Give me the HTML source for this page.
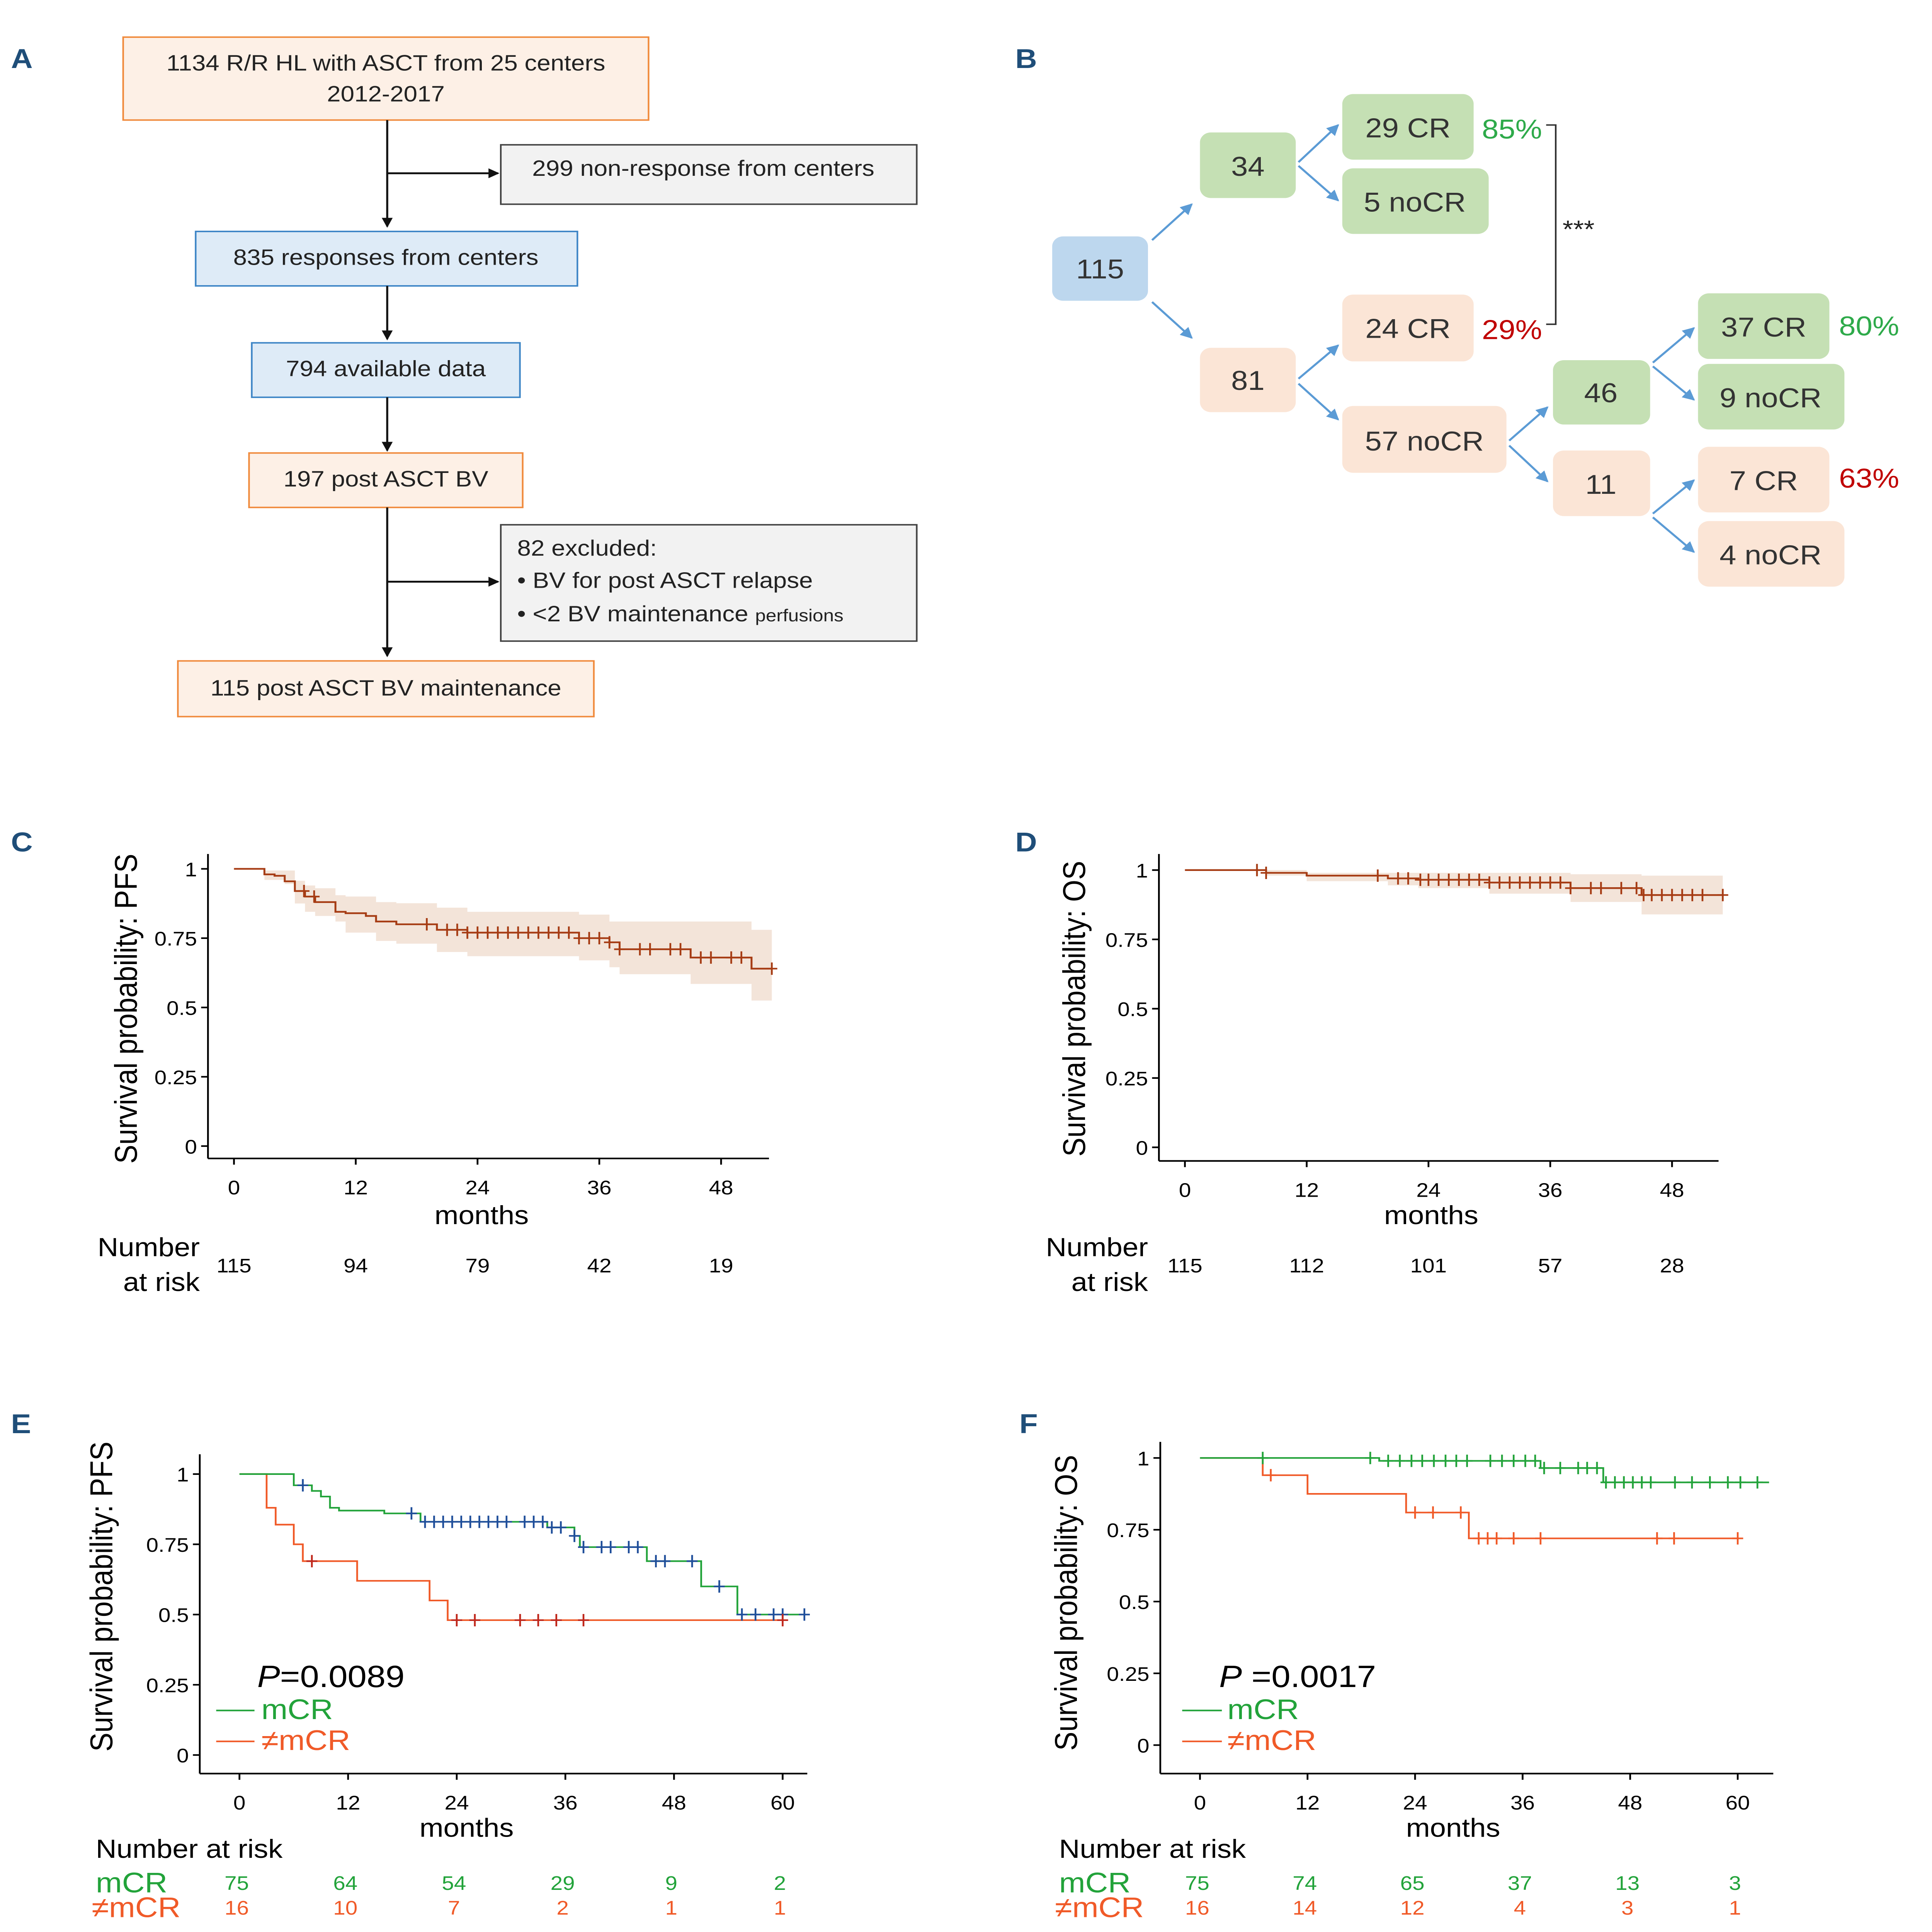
<!DOCTYPE html>
<html><head><meta charset="utf-8">
<style>
html,body{margin:0;padding:0;background:#fff;width:100vw;height:100vh;overflow:hidden;}
#root{display:block;position:fixed;left:0;top:0;width:100vw;height:100vh;}
text{font-family:"Liberation Sans",sans-serif;}
.fa{font-size:18px;fill:#222;}
.fb{font-size:22px;fill:#333;}
.tk{font-size:16px;fill:#000;}
.lab{font-size:21px;fill:#000;}
</style></head>
<body>
<svg id="root" viewBox="0 0 1412 1561" preserveAspectRatio="none" xmlns="http://www.w3.org/2000/svg">
<defs>
<marker id="ah" markerWidth="8" markerHeight="8" refX="7" refY="4" orient="auto" markerUnits="userSpaceOnUse"><path d="M0,0 L8,4 L0,8 z" fill="#111"/></marker>
<marker id="ab" markerWidth="9" markerHeight="9" refX="8" refY="4.5" orient="auto" markerUnits="userSpaceOnUse"><path d="M0,0 L9,4.5 L0,9 z" fill="#5b9bd5"/></marker>
</defs>
<g font-weight="bold" font-size="22" fill="#1f4e79">
<text x="8" y="55">A</text>
<text x="742" y="55">B</text>
<text x="8" y="688">C</text>
<text x="742" y="688">D</text>
<text x="8" y="1158">E</text>
<text x="745" y="1158">F</text>
</g>

<g>
<rect x="90" y="30" width="384" height="67" fill="#fdf0e6" stroke="#f08a3c" stroke-width="1.2"/>
<text class="fa" x="282" y="57" text-anchor="middle">1134 R/R HL with ASCT from 25 centers</text>
<text class="fa" x="282" y="82" text-anchor="middle">2012-2017</text>
<line x1="283" y1="97" x2="283" y2="183" stroke="#111" stroke-width="1.5" marker-end="url(#ah)"/>
<line x1="283" y1="140" x2="364" y2="140" stroke="#111" stroke-width="1.5" marker-end="url(#ah)"/>
<rect x="366" y="117" width="304" height="48" fill="#f2f2f2" stroke="#444" stroke-width="1.2"/>
<text class="fa" x="514" y="142" text-anchor="middle">299 non-response from centers</text>
<rect x="143" y="187" width="279" height="44" fill="#deebf7" stroke="#3d85c6" stroke-width="1.2"/>
<text class="fa" x="282" y="214" text-anchor="middle">835 responses from centers</text>
<line x1="283" y1="231" x2="283" y2="274" stroke="#111" stroke-width="1.5" marker-end="url(#ah)"/>
<rect x="184" y="277" width="196" height="44" fill="#deebf7" stroke="#3d85c6" stroke-width="1.2"/>
<text class="fa" x="282" y="304" text-anchor="middle">794 available data</text>
<line x1="283" y1="321" x2="283" y2="364" stroke="#111" stroke-width="1.5" marker-end="url(#ah)"/>
<rect x="182" y="366" width="200" height="44" fill="#fdf0e6" stroke="#f08a3c" stroke-width="1.2"/>
<text class="fa" x="282" y="393" text-anchor="middle">197 post ASCT BV</text>
<line x1="283" y1="410" x2="283" y2="530" stroke="#111" stroke-width="1.5" marker-end="url(#ah)"/>
<line x1="283" y1="470" x2="364" y2="470" stroke="#111" stroke-width="1.5" marker-end="url(#ah)"/>
<rect x="366" y="424" width="304" height="94" fill="#f2f2f2" stroke="#444" stroke-width="1.2"/>
<text class="fa" x="378" y="449">82 excluded:</text>
<text class="fa" x="378" y="475">• BV for post ASCT relapse</text>
<text class="fa" x="378" y="502">• &lt;2 BV maintenance <tspan font-size="14">perfusions</tspan></text>
<rect x="130" y="534" width="304" height="45" fill="#fdf0e6" stroke="#f08a3c" stroke-width="1.2"/>
<text class="fa" x="282" y="562" text-anchor="middle">115 post ASCT BV maintenance</text>
</g>

<g>
<rect x="769" y="191" width="70" height="52" rx="8" fill="#bdd7ee"/>
<text class="fb" x="804" y="225" text-anchor="middle">115</text>
<rect x="877" y="107" width="70" height="53" rx="8" fill="#c5e0b4"/>
<text class="fb" x="912" y="142" text-anchor="middle">34</text>
<rect x="877" y="281" width="70" height="52" rx="8" fill="#fbe5d6"/>
<text class="fb" x="912" y="315" text-anchor="middle">81</text>
<rect x="981" y="76" width="96" height="53" rx="8" fill="#c5e0b4"/>
<text class="fb" x="1029" y="111" text-anchor="middle">29 CR</text>
<rect x="981" y="136" width="107" height="53" rx="8" fill="#c5e0b4"/>
<text class="fb" x="1034" y="171" text-anchor="middle">5 noCR</text>
<rect x="981" y="238" width="96" height="54" rx="8" fill="#fbe5d6"/>
<text class="fb" x="1029" y="273" text-anchor="middle">24 CR</text>
<rect x="981" y="328" width="120" height="54" rx="8" fill="#fbe5d6"/>
<text class="fb" x="1041" y="364" text-anchor="middle">57 noCR</text>
<rect x="1135" y="291" width="71" height="52" rx="8" fill="#c5e0b4"/>
<text class="fb" x="1170" y="325" text-anchor="middle">46</text>
<rect x="1135" y="364" width="71" height="53" rx="8" fill="#fbe5d6"/>
<text class="fb" x="1170" y="399" text-anchor="middle">11</text>
<rect x="1241" y="237" width="96" height="53" rx="8" fill="#c5e0b4"/>
<text class="fb" x="1289" y="272" text-anchor="middle">37 CR</text>
<rect x="1241" y="294" width="107" height="53" rx="8" fill="#c5e0b4"/>
<text class="fb" x="1294" y="329" text-anchor="middle">9 noCR</text>
<rect x="1241" y="361" width="96" height="53" rx="8" fill="#fbe5d6"/>
<text class="fb" x="1289" y="396" text-anchor="middle">7 CR</text>
<rect x="1241" y="421" width="107" height="53" rx="8" fill="#fbe5d6"/>
<text class="fb" x="1294" y="456" text-anchor="middle">4 noCR</text>
<g font-size="22">
<text x="1083" y="112" fill="#2eaa4a">85%</text>
<text x="1083" y="274" fill="#c00000">29%</text>
<text x="1344" y="271" fill="#2eaa4a">80%</text>
<text x="1344" y="394" fill="#c00000">63%</text>
</g>
<path d="M1130,101 L1137,101 L1137,262 L1130,262" fill="none" stroke="#333" stroke-width="1.2"/>
<text x="1142" y="192" font-size="20" fill="#222">***</text>
<g stroke="#5b9bd5" stroke-width="1.6" marker-end="url(#ab)">
<line x1="842" y1="194" x2="871" y2="165"/>
<line x1="842" y1="244" x2="871" y2="273"/>
<line x1="949" y1="131" x2="978" y2="101"/>
<line x1="949" y1="134" x2="978" y2="162"/>
<line x1="949" y1="306" x2="978" y2="279"/>
<line x1="949" y1="310" x2="978" y2="339"/>
<line x1="1103" y1="356" x2="1131" y2="329"/>
<line x1="1103" y1="360" x2="1131" y2="389"/>
<line x1="1208" y1="293" x2="1238" y2="265"/>
<line x1="1208" y1="296" x2="1238" y2="323"/>
<line x1="1208" y1="415" x2="1238" y2="388"/>
<line x1="1208" y1="418" x2="1238" y2="446"/>
</g>
</g>
<g id="charts"></g>
</svg>
<script>
const cTimes = [0,3,4,5,6,7,8,10,11,13,14,16,20,23,34,37,38,45,51];
const cSurv  = [1,0.98,0.975,0.955,0.92,0.90,0.88,0.845,0.84,0.83,0.81,0.80,0.78,0.77,0.75,0.735,0.71,0.68,0.64];
const cUpper = [1,0.994,0.994,0.994,0.957,0.94,0.93,0.905,0.90,0.90,0.88,0.876,0.86,0.845,0.835,0.81,0.81,0.81,0.78];
const cLower = [1,0.96,0.96,0.945,0.875,0.845,0.83,0.81,0.77,0.77,0.74,0.73,0.70,0.685,0.67,0.645,0.62,0.585,0.525];
const cEnd = 53;
const cCensor = [6.9,7.9,19,21,22,23,24,25,26,27,28,29,30,31,32,33,34,35,36,37,38,40,41,43,44,46,47,49,50,53];
const cXTicks = [0,12,24,36,48];
const cYTicks = [0,0.25,0.5,0.75,1];
const cYTickLabels = ["0","0.25","0.5","0.75","1"];
const cRisk = ["115","94","79","42","19"];

const dTimes = [0,8,12,20,23,30,38,45];
const dSurv  = [1,0.99,0.98,0.97,0.965,0.955,0.935,0.91];
const dUpper = [1,1,0.99,0.99,0.99,0.99,0.985,0.98];
const dLower = [1,0.98,0.96,0.945,0.935,0.915,0.885,0.84];
const dEnd = 53;
const dCensor = [7.1,8,19,21,22,23.2,24,25,26,27,28,29,30,31,32,33,34,35,36,37,38,40,41,43,44.5,45.2,46,47,48,49,50,51,53];
const dXTicks = [0,12,24,36,48];
const dYTicks = [0,0.25,0.5,0.75,1];
const dYTickLabels = ["0","0.25","0.5","0.75","1"];
const dRisk = ["115","112","101","57","28"];

const eGreenTimes = [0,6,8,9,10,11,16,20,34,37,37.6,45,51,55];
const eGreenSurv  = [1,0.96,0.94,0.92,0.88,0.87,0.86,0.83,0.81,0.78,0.74,0.69,0.60,0.50];
const eGreenEnd = 62.4;
const eGreenCensor = [7,19,20.5,21.5,22.5,23.5,24.5,25.5,26.5,27.5,28.5,29.5,31.5,32.5,33.5,34.5,35.5,37,38,40,41,43,44,46,47,50,53,55.5,57,59,60,62.4];
const eRedTimes = [0,3,4,6,7,13,21,23];
const eRedSurv  = [1,0.88,0.82,0.75,0.69,0.62,0.55,0.48];
const eRedEnd = 60;
const eRedCensor = [8,24,26,31,33,35,38,60];
const eXTicks = [0,12,24,36,48,60];
const eYTicks = [0,0.25,0.5,0.75,1];
const eYTickLabels = ["0","0.25","0.5","0.75","1"];
const eRiskGreen = ["75","64","54","29","9","2"];
const eRiskRed = ["16","10","7","2","1","1"];

const fGreenTimes = [0,20,38,45];
const fGreenSurv  = [1,0.99,0.965,0.915];
const fGreenEnd = 63.5;
const fGreenCensor = [7,19,21,22.3,23.6,24.8,26.1,27.4,28.6,29.8,32.4,33.7,35,36.3,37.4,38.4,40.2,42.2,43.2,44.3,45.3,46.3,47.3,48.3,49.3,50.3,53,54.9,56.9,58.9,60.3,62.2];
const fRedTimes = [0,7,12,23,30];
const fRedSurv  = [1,0.94,0.875,0.81,0.72];
const fRedEnd = 60;
const fRedCensor = [7.9,24,26,29.1,31.1,32.1,33.1,35,38,51,52.9,60];
const fXTicks = [0,12,24,36,48,60];
const fYTicks = [0,0.25,0.5,0.75,1];
const fYTickLabels = ["0","0.25","0.5","0.75","1"];
const fRiskGreen = ["75","74","65","37","13","3"];
const fRiskRed = ["16","14","12","4","3","1"];

const NS = "http://www.w3.org/2000/svg";
const charts = document.getElementById('charts');
function mk(tag, attrs, parent){
  const e = document.createElementNS(NS, tag);
  for (const k in attrs) e.setAttribute(k, attrs[k]);
  (parent||charts).appendChild(e);
  return e;
}
function survAt(times, surv, t){
  let s = surv[0];
  for (let i=0;i<times.length;i++){ if (times[i] <= t) s = surv[i]; }
  return s;
}
function stepPath(times, vals, end, sx, sy){
  let d = "M" + sx(times[0]) + "," + sy(vals[0]);
  for (let i=1;i<times.length;i++){
    d += " L" + sx(times[i]) + "," + sy(vals[i-1]) + " L" + sx(times[i]) + "," + sy(vals[i]);
  }
  d += " L" + sx(end) + "," + sy(vals[vals.length-1]);
  return d;
}
function bandPath(times, up, lo, end, sx, sy){
  let d = "M" + sx(times[0]) + "," + sy(up[0]);
  for (let i=1;i<times.length;i++) d += " L" + sx(times[i]) + "," + sy(up[i-1]) + " L" + sx(times[i]) + "," + sy(up[i]);
  d += " L" + sx(end) + "," + sy(up[up.length-1]);
  d += " L" + sx(end) + "," + sy(lo[lo.length-1]);
  for (let i=times.length-1;i>=1;i--) d += " L" + sx(times[i]) + "," + sy(lo[i]) + " L" + sx(times[i]) + "," + sy(lo[i-1]);
  d += " L" + sx(times[0]) + "," + sy(lo[0]) + " Z";
  return d;
}
function axes(g, cfg){
  const {x0,x1,y0,y1,sx,sy,xt,yt,ytl,name} = cfg;
  const ay = mk('line',{x1:x0,y1:y0,x2:x0,y2:y1,stroke:'#000','stroke-width':1.3},g);
  
  
  const ax = mk('line',{x1:x0,y1:y1,x2:x1,y2:y1,stroke:'#000','stroke-width':1.3},g);
  
  
  xt.forEach(v=>{
    mk('line',{x1:sx(v),y1:y1,x2:sx(v),y2:y1+5,stroke:'#000','stroke-width':1.3},g);
    const t = mk('text',{x:sx(v),y:y1+29,'text-anchor':'middle',class:'tk'},g);
    t.textContent = v;
    
    
  });
  yt.forEach((v,i)=>{
    mk('line',{x1:x0-5,y1:sy(v),x2:x0,y2:sy(v),stroke:'#000','stroke-width':1.3},g);
    const t = mk('text',{x:x0-8,y:sy(v)+6,'text-anchor':'end',class:'tk'},g);
    t.textContent = ytl[i];
    
    
  });
}
function censors(g, list, times, surv, sx, sy, color, name){
  list.forEach(t=>{
    const x = sx(t), y = sy(survAt(times, surv, t));
    const c = mk('path',{d:`M${x-4},${y} L${x+4},${y} M${x},${y-5} L${x},${y+5}`,stroke:color,'stroke-width':1.3,fill:'none'},g);
    
    
  });
}
function text(g, x, y, str, attrs, dn){
  const t = mk('text', Object.assign({x:x,y:y}, attrs), g);
  t.textContent = str;
  
  
  return t;
}
function ylabel(g, x, y, str, dn){
  const t = mk('text',{x:0,y:0,transform:`translate(${x},${y}) rotate(-90)`,'text-anchor':'middle','font-size':23,fill:'#000'},g);
  t.textContent = str;
  
  
}

(function(){
  const g = mk('g',{});
  
  
  const sx = t => 171 + t*89/12, sy = s => 926 - s*224;
  const band = mk('path',{d:bandPath(cTimes,cUpper,cLower,cEnd,sx,sy),fill:'#f3e4d9'},g);
  
  
  axes(g,{x0:152,x1:562,y0:690,y1:936,sx,sy,xt:cXTicks,yt:cYTicks,ytl:cYTickLabels,name:'pfs-c'});
  const p = mk('path',{d:stepPath(cTimes,cSurv,cEnd,sx,sy),fill:'none',stroke:'#a63c14','stroke-width':1.4},g);
  
  
  censors(g,cCensor,cTimes,cSurv,sx,sy,'#a63c14','pfs-c');
  ylabel(g,100,815,'Survival probability: PFS','pfs-c-y-axis-title');
  text(g,352,989,'months',{'text-anchor':'middle',class:'lab'},'pfs-c-x-axis-title');
  text(g,146,1015,'Number',{'text-anchor':'end',class:'lab'},'risk-table-title');
  text(g,146,1043,'at risk',{'text-anchor':'end',class:'lab'},'risk-table-title');
  cXTicks.forEach((v,i)=>text(g,sx(v),1028,cRisk[i],{'text-anchor':'middle',class:'tk'},'risk-count'));
})();

(function(){
  const g = mk('g',{});
  
  
  const sx = t => 866 + t*89/12, sy = s => 927 - s*224;
  const band = mk('path',{d:bandPath(dTimes,dUpper,dLower,dEnd,sx,sy),fill:'#f3e4d9'},g);
  
  
  axes(g,{x0:847,x1:1256,y0:690,y1:938,sx,sy,xt:dXTicks,yt:dYTicks,ytl:dYTickLabels,name:'os-d'});
  const p = mk('path',{d:stepPath(dTimes,dSurv,dEnd,sx,sy),fill:'none',stroke:'#a63c14','stroke-width':1.4},g);
  
  
  censors(g,dCensor,dTimes,dSurv,sx,sy,'#a63c14','os-d');
  ylabel(g,793,815,'Survival probability: OS','os-d-y-axis-title');
  text(g,1046,989,'months',{'text-anchor':'middle',class:'lab'},'os-d-x-axis-title');
  text(g,839,1015,'Number',{'text-anchor':'end',class:'lab'},'risk-table-title');
  text(g,839,1043,'at risk',{'text-anchor':'end',class:'lab'},'risk-table-title');
  dXTicks.forEach((v,i)=>text(g,sx(v),1028,dRisk[i],{'text-anchor':'middle',class:'tk'},'risk-count'));
})();

(function(){
  const g = mk('g',{});
  
  
  const sx = t => 175 + t*(572-175)/60, sy = s => 1418 - s*227;
  axes(g,{x0:146,x1:590,y0:1175,y1:1433,sx,sy,xt:eXTicks,yt:eYTicks,ytl:eYTickLabels,name:'pfs-e'});
  const r = mk('path',{d:stepPath(eRedTimes,eRedSurv,eRedEnd,sx,sy),fill:'none',stroke:'#f05a28','stroke-width':1.3},g);
  
  
  const gr = mk('path',{d:stepPath(eGreenTimes,eGreenSurv,eGreenEnd,sx,sy),fill:'none',stroke:'#22a33a','stroke-width':1.3},g);
  
  
  censors(g,eGreenCensor,eGreenTimes,eGreenSurv,sx,sy,'#1f4e9a','mcr');
  censors(g,eRedCensor,eRedTimes,eRedSurv,sx,sy,'#c0281c','non-mcr');
  ylabel(g,82,1290,'Survival probability: PFS','pfs-e-y-axis-title');
  const pv = text(g,188,1363,'',{'font-size':25,fill:'#000'},'p-value');
  pv.innerHTML = '<tspan font-style="italic">P</tspan>=0.0089';
  const l1 = mk('line',{x1:158,y1:1382,x2:186,y2:1382,stroke:'#22a33a','stroke-width':1.3},g);
  
  
  text(g,191,1389,'mCR',{'font-size':23,fill:'#22a33a'},'legend-mcr');
  const l2 = mk('line',{x1:158,y1:1407,x2:186,y2:1407,stroke:'#f05a28','stroke-width':1.3},g);
  
  
  text(g,191,1414,'≠mCR',{'font-size':23,fill:'#f05a28'},'legend-non-mcr');
  text(g,341,1484,'months',{'text-anchor':'middle',class:'lab'},'pfs-e-x-axis-title');
  text(g,70,1501,'Number at risk',{class:'lab'},'risk-table-title');
  text(g,70,1529,'mCR',{'font-size':23,fill:'#22a33a'},'risk-row-mcr');
  text(g,67,1549,'≠mCR',{'font-size':23,fill:'#f05a28'},'risk-row-non-mcr');
  eXTicks.forEach((v,i)=>text(g,sx(v)-2,1527,eRiskGreen[i],{'text-anchor':'middle','font-size':16,fill:'#22a33a'},'risk-count-mcr'));
  eXTicks.forEach((v,i)=>text(g,sx(v)-2,1547,eRiskRed[i],{'text-anchor':'middle','font-size':16,fill:'#f05a28'},'risk-count-non-mcr'));
})();

(function(){
  const g = mk('g',{});
  
  
  const sx = t => 877 + t*(1270-877)/60, sy = s => 1410 - s*232;
  axes(g,{x0:848,x1:1296,y0:1165,y1:1433,sx,sy,xt:fXTicks,yt:fYTicks,ytl:fYTickLabels,name:'os-f'});
  const r = mk('path',{d:stepPath(fRedTimes,fRedSurv,fRedEnd,sx,sy),fill:'none',stroke:'#f05a28','stroke-width':1.3},g);
  
  
  const gr = mk('path',{d:stepPath(fGreenTimes,fGreenSurv,fGreenEnd,sx,sy),fill:'none',stroke:'#22a33a','stroke-width':1.3},g);
  
  
  censors(g,fGreenCensor,fGreenTimes,fGreenSurv,sx,sy,'#22a33a','mcr');
  censors(g,fRedCensor,fRedTimes,fRedSurv,sx,sy,'#f05a28','non-mcr');
  ylabel(g,787,1295,'Survival probability: OS','os-f-y-axis-title');
  const pv = text(g,891,1363,'',{'font-size':25,fill:'#000'},'p-value');
  pv.innerHTML = '<tspan font-style="italic">P</tspan> =0.0017';
  const l1 = mk('line',{x1:864,y1:1382,x2:893,y2:1382,stroke:'#22a33a','stroke-width':1.3},g);
  
  
  text(g,897,1389,'mCR',{'font-size':23,fill:'#22a33a'},'legend-mcr');
  const l2 = mk('line',{x1:864,y1:1407,x2:893,y2:1407,stroke:'#f05a28','stroke-width':1.3},g);
  
  
  text(g,897,1414,'≠mCR',{'font-size':23,fill:'#f05a28'},'legend-non-mcr');
  text(g,1062,1484,'months',{'text-anchor':'middle',class:'lab'},'os-f-x-axis-title');
  text(g,774,1501,'Number at risk',{class:'lab'},'risk-table-title');
  text(g,774,1529,'mCR',{'font-size':23,fill:'#22a33a'},'risk-row-mcr');
  text(g,771,1549,'≠mCR',{'font-size':23,fill:'#f05a28'},'risk-row-non-mcr');
  fXTicks.forEach((v,i)=>text(g,sx(v)-2,1527,fRiskGreen[i],{'text-anchor':'middle','font-size':16,fill:'#22a33a'},'risk-count-mcr'));
  fXTicks.forEach((v,i)=>text(g,sx(v)-2,1547,fRiskRed[i],{'text-anchor':'middle','font-size':16,fill:'#f05a28'},'risk-count-non-mcr'));
})();
</script>
</body></html>
